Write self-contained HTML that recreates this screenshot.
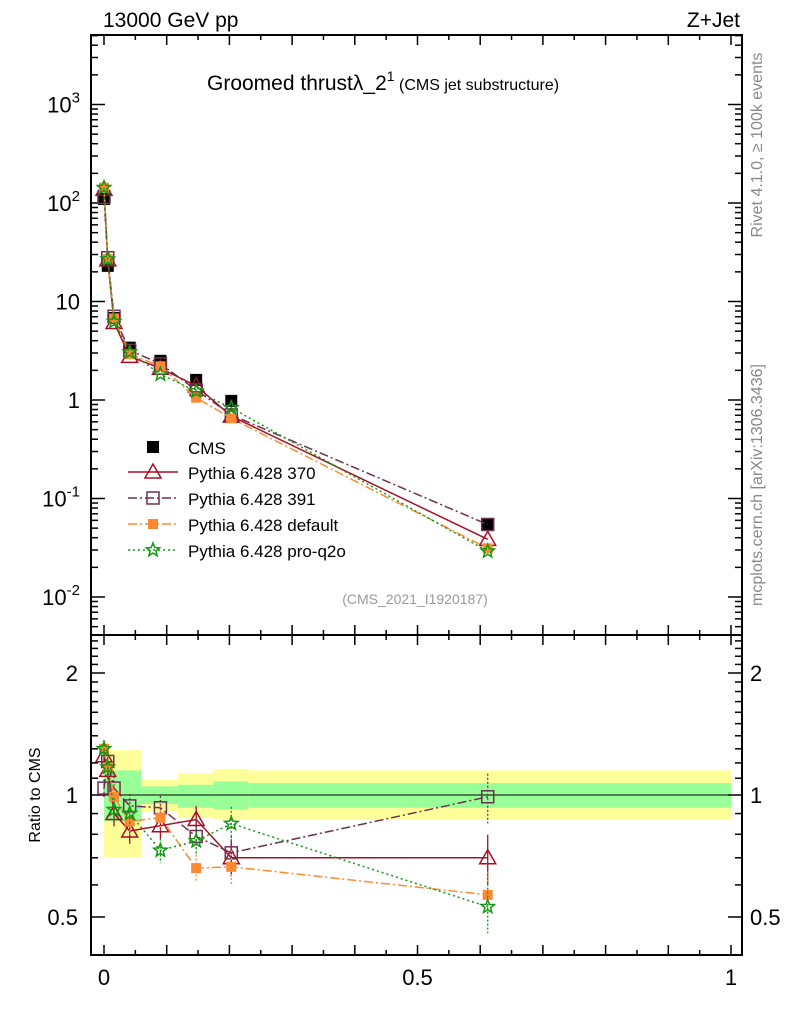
<!DOCTYPE html>
<html><head><meta charset="utf-8"><style>
body{margin:0;background:#fff;font-family:"Liberation Sans",sans-serif}
svg text{font-family:"Liberation Sans",sans-serif}
</style></head><body>
<svg id="c" width="786" height="1024" xmlns="http://www.w3.org/2000/svg"></svg>
<script>
const xs=[0.0,0.006,0.016,0.041,0.09,0.147,0.203,0.612];
const cms=[110,23,6.8,3.4,2.5,1.6,0.98,0.055];
const r370=[1.25,1.15,0.90,0.815,0.84,0.87,0.70,0.70];
const r391=[1.04,1.21,1.04,0.94,0.93,0.79,0.72,0.99];
const rdef=[1.3,1.17,0.99,0.86,0.88,0.66,0.665,0.567];
const rq2o=[1.3,1.17,0.92,0.90,0.73,0.77,0.85,0.53];
const errs=[0.05,0.05,0.07,0.07,0.07,0.08,0.1,0.14];
const binEdges=[0,0.06,0.118,0.175,0.23,1.0];
const yelLo=[0.70,0.91,0.88,0.87,0.87];
const yelHi=[1.29,1.09,1.13,1.16,1.15];
const grnLo=[0.86,0.95,0.93,0.92,0.93];
const grnHi=[1.15,1.05,1.06,1.08,1.07];
const mainTicks=["10^{-2}","10^{-1}","1","10","10^2","10^3"];
const ratioTicks=[0.5,1,2];

const S=document.getElementById('c');const NS='http://www.w3.org/2000/svg';
function el(t,a,p){const e=document.createElementNS(NS,t);for(const k in a)e.setAttribute(k,a[k]);(p||S).appendChild(e);return e;}
const L=91,R=742,T=35,M=635,B=955;
const X=v=>104+v*627;
const Y=v=>400-Math.log10(v)*98.5;
const YR=v=>795-Math.log2(v)*122;
for(let i=0;i<binEdges.length-1;i++){
 const y=el('rect',{x:X(binEdges[i]),y:YR(yelHi[i]),width:X(binEdges[i+1])-X(binEdges[i]),height:YR(yelLo[i])-YR(yelHi[i]),fill:'#ffff99'});
 
 const g=el('rect',{x:X(binEdges[i]),y:YR(grnHi[i]),width:X(binEdges[i+1])-X(binEdges[i]),height:YR(grnLo[i])-YR(grnHi[i]),fill:'#99ff99'});
 
}
el('line',{x1:L,x2:R,y1:YR(1),y2:YR(1),stroke:'#000','stroke-width':1});
el('rect',{x:L,y:T,width:R-L,height:M-T,fill:'none',stroke:'#000','stroke-width':2});
el('rect',{x:L,y:M,width:R-L,height:B-M,fill:'none',stroke:'#000','stroke-width':2});
for(let v=0;v<=1.0001;v+=0.05){const maj=Math.abs(v*10-Math.round(v*10))<1e-6;const l=maj?10:5;
 for(const [yb,yt] of [[M,T],[B,M]]){el('line',{x1:X(v),x2:X(v),y1:yb,y2:yb-l,stroke:'#000','stroke-width':1.5});el('line',{x1:X(v),x2:X(v),y1:yt,y2:yt+l,stroke:'#000','stroke-width':1.5});}}
[['0',0],['0.5',0.5],['1',1]].forEach(([t,v])=>{const e=el('text',{x:X(v),y:985,'font-size':22,'text-anchor':'middle'});e.textContent=t;});
for(let d=-3;d<=3;d++){for(let k=1;k<10;k++){const v=k*Math.pow(10,d);const y=Y(v);if(y<T||y>M)continue;const l=k==1?14:7;
 el('line',{x1:L,x2:L+l,y1:y,y2:y,stroke:'#000','stroke-width':1.5});el('line',{x1:R,x2:R-l,y1:y,y2:y,stroke:'#000','stroke-width':1.5});}}
mainTicks.forEach((t,i)=>{const d=i-2;const y=Y(Math.pow(10,d))+8;const e=el('text',{x:80,y:y,'font-size':22,'text-anchor':'end'});
 
 if(t.startsWith('10^')){e.textContent='10';const s=el('tspan',{dy:-10,'font-size':15},e);s.textContent=t.slice(3).replace(/[{}]/g,'');}else e.textContent=t;});
for(let v=0.4;v<=2.5;v+=0.1){const y=YR(v);if(y<M||y>B)continue;const maj=[0.5,1,2].some(m=>Math.abs(m-v)<1e-6);const l=maj?14:7;
 el('line',{x1:L,x2:L+l,y1:y,y2:y,stroke:'#000','stroke-width':1.5});el('line',{x1:R,x2:R-l,y1:y,y2:y,stroke:'#000','stroke-width':1.5});}
ratioTicks.forEach(v=>{const e=el('text',{x:78,y:YR(v)+8,'font-size':22,'text-anchor':'end'});e.textContent=v;
 const e2=el('text',{x:750,y:YR(v)+8,'font-size':22});e2.textContent=v;});
function txt(x,y,s,t,a,n,extra){const e=el('text',Object.assign({x:x,y:y,'font-size':s,'text-anchor':a||'start'},extra||{}));e.textContent=t;return e;}
txt(103,27,21,'13000 GeV pp','start','collision-label');
txt(740,27,21,'Z+Jet','end','process-label');
const ti=txt(207,90,21,'Groomed thrust','start','plot-title');
const ts=el('tspan',{},ti);ts.textContent='λ_2';const t2=el('tspan',{dy:-9,'font-size':14},ti);t2.textContent='1';const t3=el('tspan',{dy:9,'font-size':16},ti);t3.textContent=' (CMS jet substructure)';
txt(415,604,14,'(CMS_2021_I1920187)','middle','analysis-id',{fill:'#999'});
txt(40,795,16,'Ratio to CMS','middle','ratio-axis-title',{transform:'rotate(-90 40 795)'});
txt(762,145,16,'Rivet 4.1.0, ≥ 100k events','middle','rivet-label',{transform:'rotate(-90 762 145)',fill:'#888'});
txt(762,485,16,'mcplots.cern.ch [arXiv:1306.3436]','middle','mcplots-label',{transform:'rotate(-90 762 485)',fill:'#888'});
const series=[
 {r:r370,c:'#a50f27',d:'',m:'tri',n:'pythia-370',lab:'Pythia 6.428 370'},
 {r:r391,c:'#6e3050',d:'9,3,2,3',m:'sq',n:'pythia-391',lab:'Pythia 6.428 391'},
 {r:rdef,c:'#ff8833',d:'9,3,2,3',m:'fsq',n:'pythia-default',lab:'Pythia 6.428 default'},
 {r:rq2o,c:'#119911',d:'2,3',m:'star',n:'pythia-pro-q2o',lab:'Pythia 6.428 pro-q2o'}];
function marker(m,x,y,c,name){let e;
 if(m=='tri')e=el('polygon',{points:`${x},${y-8} ${x-8},${y+6} ${x+8},${y+6}`,fill:'none',stroke:c,'stroke-width':1.5});
 else if(m=='sq')e=el('rect',{x:x-6,y:y-6,width:12,height:12,fill:'none',stroke:c,'stroke-width':1.5});
 else if(m=='fsq')e=el('rect',{x:x-5,y:y-5,width:10,height:10,fill:c});
 else if(m=='cms')e=el('rect',{x:x-6,y:y-6,width:12,height:12,fill:'#000'});
 else{let p=[];for(let i=0;i<10;i++){const a=-Math.PI/2+i*Math.PI/5,rr=i%2?3:7;p.push((x+rr*Math.cos(a))+','+(y+rr*Math.sin(a)));}e=el('polygon',{points:p.join(' '),fill:'none',stroke:c,'stroke-width':1.5});}
 }
cms.forEach((v,i)=>marker('cms',X(xs[i]),Y(v),'#000','cms-point'));
series.forEach(s=>{
 const pm=xs.map((x,i)=>X(x)+','+Y(cms[i]*s.r[i])).join(' ');
 const pl=el('polyline',{points:pm,fill:'none',stroke:s.c,'stroke-width':1.5,'stroke-dasharray':s.d});
 
 xs.forEach((x,i)=>marker(s.m,X(x),Y(cms[i]*s.r[i]),s.c,s.n+'-point'));
 const pr=xs.map((x,i)=>X(x)+','+YR(s.r[i])).join(' ');
 const pl2=el('polyline',{points:pr,fill:'none',stroke:s.c,'stroke-width':1.5,'stroke-dasharray':s.d});
 
 xs.forEach((x,i)=>{const e=errs[i];el('line',{x1:X(x),x2:X(x),y1:YR(s.r[i]*(1+e)),y2:YR(s.r[i]*(1-e)),stroke:s.c,'stroke-width':1.3,'stroke-dasharray':s.d?'2,2':''});
  marker(s.m,X(x),YR(s.r[i]),s.c,s.n+'-ratio-point');});
});
const ly=[447,472,498,524,550];
marker('cms',153,ly[0],'#000','legend-cms-marker');txt(188,ly[0]+7,17,'CMS','start','legend-cms');
series.forEach((s,i)=>{const y=ly[i+1];el('line',{x1:128,x2:178,y1:y,y2:y,stroke:s.c,'stroke-width':1.5,'stroke-dasharray':s.d});
 marker(s.m,153,y,s.c,'legend-'+s.n+'-marker');txt(188,y+7,17,s.lab,'start','legend-'+s.n);});
</script>
</body></html>
